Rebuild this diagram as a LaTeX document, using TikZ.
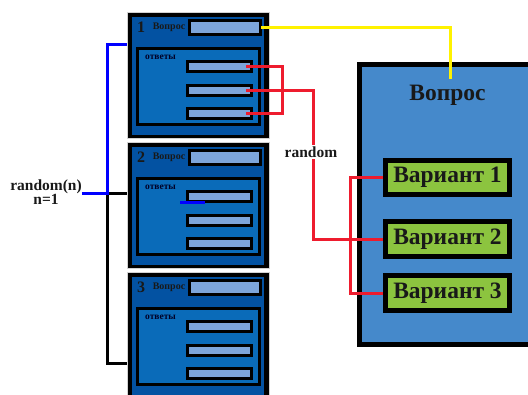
\documentclass[tikz,border=0pt]{standalone}
\usepackage{fontspec}
\setmainfont{Liberation Serif}
\definecolor{cardblue}{HTML}{0352A2}
\definecolor{ansblue}{HTML}{0A6BB9}
\definecolor{fieldblue}{HTML}{7DA5DA}
\definecolor{bigblue}{HTML}{4589CB}
\definecolor{vargreen}{HTML}{8CC43F}
\definecolor{redline}{HTML}{EE1C2E}
\definecolor{yelline}{HTML}{FFF200}
\definecolor{pureblue}{HTML}{0000FF}
\tikzset{
  cardnode/.style={fill=black, draw=gray!35, line width=0.8pt, inner sep=0pt, minimum width=142pt, minimum height=126pt},
  qfield/.style={draw=black, fill=fieldblue, line width=3pt, inner sep=0pt, minimum width=71pt, minimum height=14pt},
  afield/.style={draw=black, fill=fieldblue, line width=3pt, inner sep=0pt, minimum width=64pt, minimum height=10pt},
  ansbox/.style={draw=black, fill=ansblue, line width=3pt, inner sep=0pt, minimum width=122pt, minimum height=76pt},
  digit/.style={inner sep=0pt, font=\bfseries\fontsize{16}{17}\selectfont, text=black!90},
  qlabel/.style={inner sep=0pt, font=\bfseries\fontsize{10}{11}\selectfont, text=black!90},
  alabel/.style={inner sep=0pt, font=\bfseries\fontsize{9.5}{10}\selectfont, text=black!85!blue},
  bigbox/.style={draw=black, fill=bigblue, line width=5pt, inner sep=0pt},
  bigtitle/.style={inner sep=0pt, font=\bfseries\fontsize{23.5}{25}\selectfont, text=black!90},
  variant/.style={draw=black, fill=vargreen, line width=5pt, inner sep=0pt, minimum width=124pt, font=\bfseries\fontsize{23.5}{25}\selectfont, text=black!90},
  redl/.style={draw=redline, line width=3pt},
  yell/.style={draw=yelline, line width=3pt},
  bluel/.style={draw=pureblue, line width=3pt},
  blkl/.style={draw=black, line width=3pt},
  lbl/.style={inner sep=1pt, font=\bfseries\fontsize{15.5}{12}\selectfont, text=black!90}
}
\begin{document}
\begin{tikzpicture}[x=1pt,y=-1pt]
\useasboundingbox (0,0) rectangle (528,394);
\clip (0,0) rectangle (528,394);
\fill[white] (0,0) rectangle (528,394);

% cards
\foreach \i/\T in {1/12,2/142,3/272} {
  \node[cardnode] (c\i) at (198,\T+63) {};
  \fill[cardblue] (132,\T+5) rectangle (264,\T+123);
  \node[digit] (n\i) at (141,\T+15.5) {\i};
  \node[qlabel] (ql\i) at (169,\T+15) {Вопрос};
  \node[qfield] (q\i) at (225,\T+15.5) {};
  \node[ansbox] (ab\i) at (198.5,\T+74.5) {};
  \node[alabel] (al\i) at (160.5,\T+45) {ответы};
  \node[afield] (a\i1) at (219.5,\T+54.5) {};
  \node[afield] (a\i2) at (219.5,\T+78) {};
  \node[afield] (a\i3) at (219.5,\T+101) {};
}

% right box
\node[bigbox, minimum width=200pt, minimum height=280pt] (big) at (459.5,204.5) {};
\node[bigtitle] (bq) at (447.5,95) {Вопрос};
\node[variant, minimum height=34pt] (v1) at (447.5,177.5) {Вариант 1};
\node[variant, minimum height=35pt] (v2) at (447.5,239) {Вариант 2};
\node[variant, minimum height=35pt] (v3) at (447.5,293) {Вариант 3};

% helper coordinates
\coordinate (rj) at (282,0);
\coordinate (rr) at (313,0);
\coordinate (rv) at (350,0);
\coordinate (yend) at (450,79);
\coordinate (jn) at (107,193.5);
\coordinate (c1in) at (127,44);
\coordinate (c3in) at (127,363);
\coordinate (bs1) at (180,202);
\coordinate (bs2) at (205,202);

% red connectors
\draw[redl] ([xshift=-7pt]a11.east) -- (a11.east -| rj) -- (a13.east -| rj) -- ([xshift=-7pt]a13.east);
\draw[redl] ([xshift=-7pt]a12.east) -- (a12.east -| rr) -- (v2.west -| rr) -- (v2.west);
\draw[redl] (v1.west) -- (v1.west -| rv) -- (v3.west -| rv) -- (v3.west);
\node[lbl, fill=white, inner sep=2pt] (rl) at (311,152) {random};

% yellow connector
\draw[yell] ([xshift=-1pt]q1.east) -| (yend);

% left connectors
\node[lbl, align=center, inner sep=0pt] (rnd) at (46,192) {random(n)\\n=1};
\draw[blkl] (jn) -- (c2.west |- jn);
\draw[blkl] (jn) |- (c3in);
\draw[bluel] (rnd.east |- jn) -- (jn) |- (c1in);
\draw[bluel] (bs1) -- (bs2);
\end{tikzpicture}
\end{document}
